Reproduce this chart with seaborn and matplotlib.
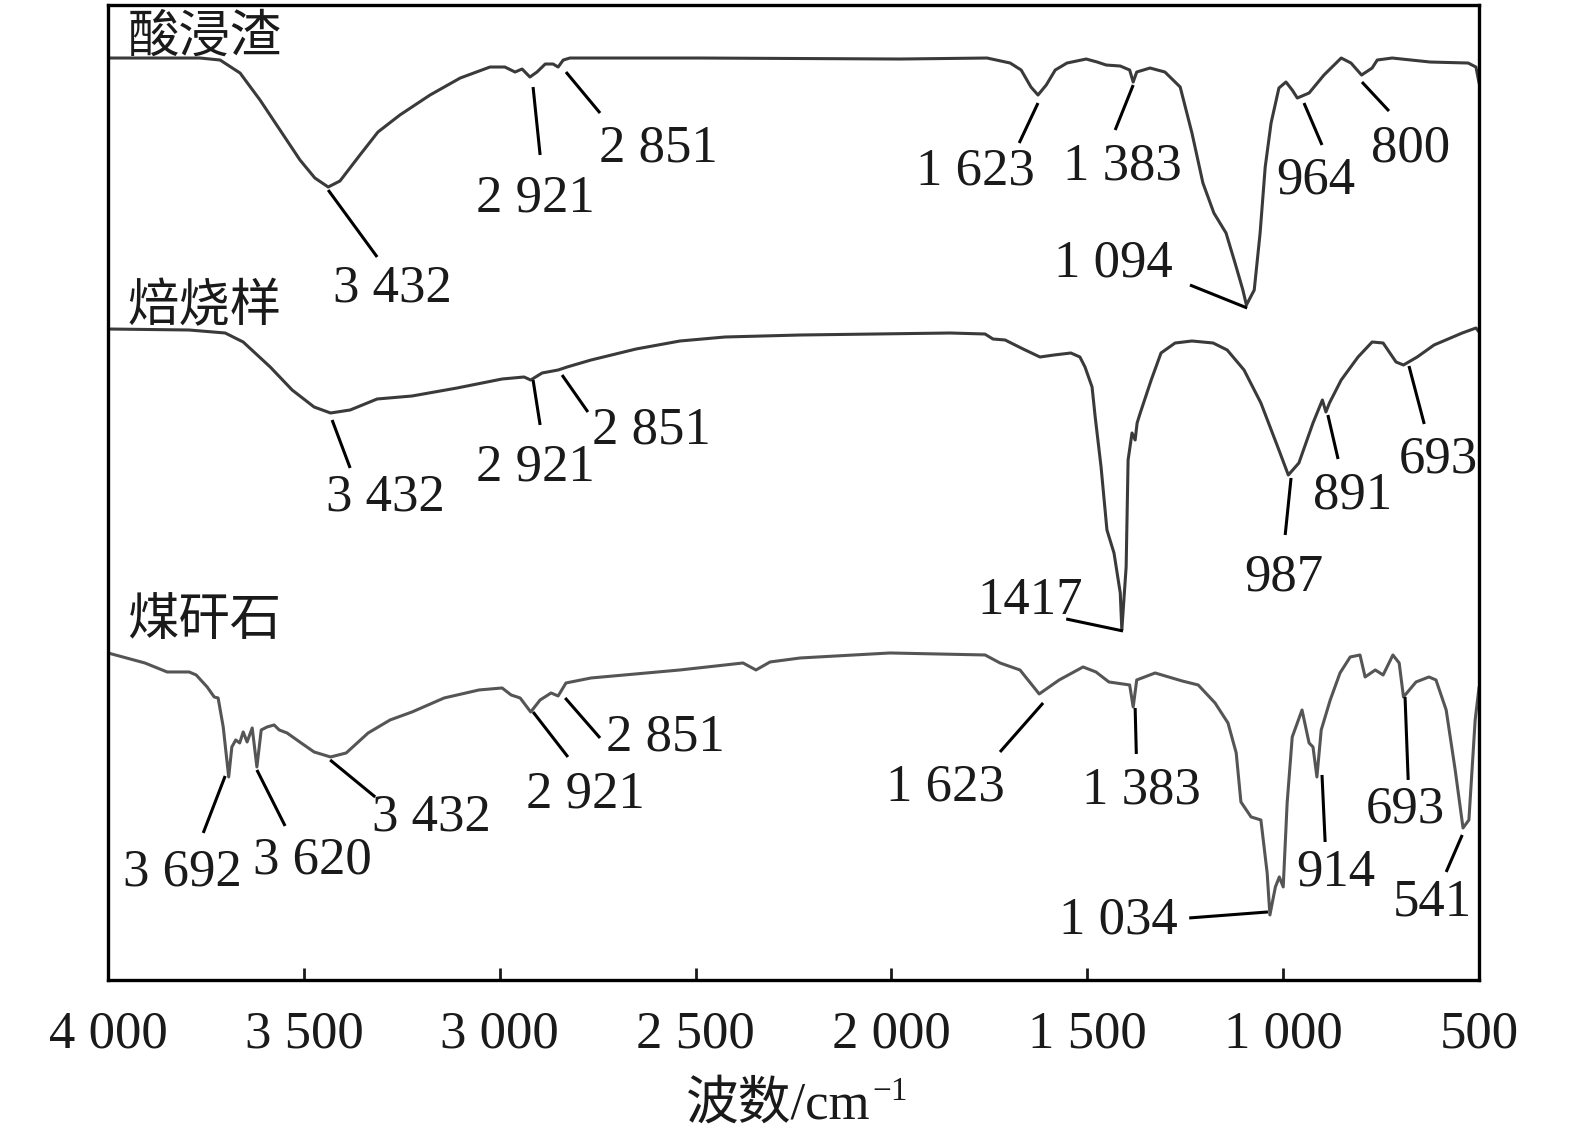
import numpy as np
import pandas as pd
import matplotlib
matplotlib.use("Agg")
import matplotlib.pyplot as plt
import seaborn as sns
from matplotlib.ticker import FuncFormatter

# FTIR spectra, transmittance in arbitrary units (curves already offset)
wn_acid = [4000, 3765, 3714, 3663, 3612, 3561, 3510, 3472, 3438, 3408, 3357, 3311, 3255, 3178,
           3101, 3025, 2987, 2961, 2943, 2923, 2905, 2884, 2864, 2851, 2838, 2821, 2489, 1978,
           1756, 1697, 1669, 1644, 1626, 1605, 1582, 1552, 1503, 1475, 1452, 1416, 1392, 1383,
           1374, 1340, 1302, 1263, 1233, 1205, 1177, 1146, 1123, 1103, 1094, 1074, 1059, 1046,
           1031, 1011, 993, 977, 964, 934, 896, 852, 827, 800, 773, 760, 722, 625, 528, 508, 500]
t_acid = [922, 922, 920, 907, 880, 850, 820, 802, 793, 799, 825, 848, 865, 885,
          902, 913, 913, 908, 911, 903, 908, 916, 916, 913, 920, 922, 922, 921,
          922, 917, 910, 893, 885, 895, 910, 917, 921, 918, 915, 914, 910, 898,
          908, 912, 908, 893, 847, 797, 767, 747, 717, 690, 675, 690, 747, 813,
          857, 892, 898, 890, 882, 887, 905, 922, 917, 905, 912, 920, 922, 918, 917, 913, 897]

wn_roast = [4000, 3793, 3701, 3655, 3586, 3530, 3474, 3432, 3382, 3313, 3224, 3109, 2994, 2938,
            2921, 2892, 2851, 2828, 2767, 2652, 2540, 2425, 2233, 1850, 1761, 1741, 1710, 1664,
            1621, 1585, 1542, 1519, 1506, 1488, 1480, 1465, 1450, 1432, 1416, 1412, 1401, 1396,
            1386, 1378, 1373, 1365, 1337, 1312, 1276, 1233, 1179, 1143, 1100, 1057, 1011, 987,
            960, 924, 900, 891, 882, 852, 809, 773, 745, 712, 693, 658, 615, 543, 508, 500]
t_roast = [651, 650, 647, 638, 613, 590, 573, 567, 570, 581, 584, 592, 601, 603,
           600, 607, 610, 613, 620, 631, 639, 643, 645, 647, 646, 641, 640, 631,
           623, 625, 627, 623, 613, 593, 563, 513, 450, 427, 387, 350, 413, 520,
           547, 540, 557, 567, 600, 627, 637, 639, 637, 630, 610, 577, 530, 505,
           517, 557, 580, 568, 577, 600, 623, 638, 637, 618, 615, 623, 635, 647, 652, 648]

wn_gangue = [4000, 3906, 3849, 3793, 3775, 3747, 3729, 3719, 3706, 3692, 3684, 3674, 3664, 3655,
             3645, 3632, 3620, 3609, 3594, 3576, 3563, 3543, 3507, 3474, 3432, 3392, 3336, 3280,
             3224, 3142, 3053, 2994, 2971, 2948, 2921, 2897, 2869, 2851, 2831, 2767, 2540, 2379,
             2346, 2310, 2233, 2004, 1761, 1723, 1672, 1631, 1623, 1572, 1511, 1478, 1445, 1392,
             1383, 1374, 1327, 1258, 1217, 1174, 1141, 1120, 1108, 1082, 1057, 1041, 1034, 1020,
             1010, 1000, 990, 977, 952, 934, 924, 914, 903, 880, 855, 829, 804, 791, 765, 745,
             720, 704, 693, 661, 628, 610, 584, 561, 541, 526, 510, 500]
t_gangue = [327, 317, 308, 308, 305, 293, 283, 282, 253, 203, 233, 240, 237, 248,
            238, 252, 213, 250, 253, 255, 250, 247, 237, 228, 223, 227, 247, 260,
            268, 282, 290, 292, 285, 282, 268, 280, 287, 284, 297, 302, 310, 317,
            310, 318, 322, 327, 325, 317, 310, 290, 286, 300, 313, 308, 298, 295,
            273, 300, 307, 299, 295, 277, 257, 227, 178, 163, 160, 107, 65, 93,
            103, 93, 177, 243, 270, 237, 233, 203, 250, 280, 307, 323, 325, 303, 310, 305,
            325, 317, 283, 298, 303, 300, 270, 210, 152, 160, 260, 293]

sample_names = ["酸浸渣", "焙烧样", "煤矸石"]
x_ticks = [4000, 3500, 3000, 2500, 2000, 1500, 1000, 500]

# peak labels: text, (curve point), (leader end), (text centre)
peaks = [
    ("3 432", 3438, 790, 3313, 723, 3275, 692),
    ("2 921", 2915, 893, 2897, 825, 2910, 782),
    ("2 851", 2831, 908, 2744, 867, 2596, 832),
    ("1 623", 1626, 877, 1674, 837, 1787, 809),
    ("1 383", 1383, 895, 1429, 850, 1411, 814),
    ("1 094", 1238, 695, 1092, 672, 1434, 717),
    ("964", 947, 877, 901, 835, 916, 800),
    ("800", 799, 898, 730, 869, 676, 832),
    ("3 432", 3428, 560, 3382, 512, 3293, 482),
    ("2 921", 2915, 600, 2897, 555, 2910, 512),
    ("2 851", 2841, 605, 2775, 568, 2614, 549),
    ("1417", 1554, 361, 1409, 349, 1646, 379),
    ("987", 980, 502, 995, 445, 998, 402),
    ("891", 886, 565, 860, 521, 822, 484),
    ("693", 679, 614, 640, 556, 605, 520),
    ("3 692", 3701, 204, 3757, 147, 3811, 107),
    ("3 620", 3620, 210, 3548, 154, 3479, 119),
    ("3 432", 3433, 220, 3318, 183, 3175, 162),
    ("2 921", 2915, 268, 2826, 223, 2782, 185),
    ("2 851", 2833, 282, 2744, 242, 2578, 242),
    ("1 623", 1613, 277, 1723, 228, 1863, 192),
    ("1 383", 1378, 272, 1375, 226, 1363, 189),
    ("1 034", 1240, 62, 1039, 68, 1422, 59),
    ("914", 901, 205, 893, 138, 865, 107),
    ("693", 689, 283, 681, 200, 689, 170),
    ("541", 543, 145, 584, 108, 620, 77),
]

df = pd.concat([
    pd.DataFrame({"wn": wn_acid, "T": t_acid, "sample": sample_names[0]}),
    pd.DataFrame({"wn": wn_roast, "T": t_roast, "sample": sample_names[1]}),
    pd.DataFrame({"wn": wn_gangue, "T": t_gangue, "sample": sample_names[2]}),
])

sns.set_theme(style="white")
fonts = ["Liberation Serif", "Noto Sans CJK SC"]
plt.rcParams["font.family"] = fonts

fig = plt.figure(figsize=(15.75, 11.42), dpi=100)
ax = fig.add_axes([0.0686, 0.1419, 0.8705, 0.8537])

sns.lineplot(data=df, x="wn", y="T", hue="sample", units="sample", estimator=None,
             sort=False, palette=["#3a3a3a", "#3a3a3a", "#555555"], linewidth=2.2,
             legend=False, ax=ax)

for txt, x0, y0, x1, y1, xt, yt in peaks:
    ax.plot([x0, x1], [y0, y1], color="black", lw=2.2, solid_capstyle="butt")
    ax.text(xt, yt, txt, fontsize=38, ha="center", va="center", color="#1a1a1a")

for name, yy in zip(sample_names, [941, 672, 357]):
    ax.text(3951, yy, name, fontsize=37, ha="left", va="center", color="#1a1a1a")

ax.set_xlim(4000, 500)
ax.set_ylim(0, 975)
ax.set_yticks([])
ax.set_xticks(x_ticks)
ax.xaxis.set_major_formatter(FuncFormatter(lambda v, p: f"{int(v):,}".replace(",", " ")))
ax.tick_params(axis="x", direction="in", length=9, width=2, pad=22, labelsize=38,
               colors="#1a1a1a", bottom=True, top=False)
for s in ax.spines.values():
    s.set_linewidth(2.4)
    s.set_color("black")
xl = ax.set_xlabel("波数/cm", fontsize=38, labelpad=16, color="#1a1a1a")
xl.set_x(0.489)
ax.set_ylabel("")
ax.annotate("\u22121", xy=(1, 1), xycoords=xl, xytext=(1, 3), textcoords="offset points",
            fontsize=24, ha="left", va="top", color="#1a1a1a")

fig.savefig("out.png", dpi=100)
